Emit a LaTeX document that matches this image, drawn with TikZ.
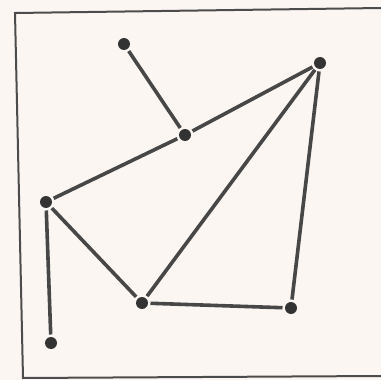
\documentclass[tikz,border=0pt]{standalone}
\begin{document}
\begin{tikzpicture}[x=1pt,y=-1pt,
  vtx/.style={circle,fill=black!80,inner sep=0pt,minimum size=12pt,outer sep=2.5pt},
  edge/.style={draw=black!72,line width=3.6pt},
  frame/.style={draw=black!70,line width=2pt}]
\fill[white!93!brown] (0,0) rectangle (381,380);
\useasboundingbox (0,0) rectangle (381,380);
\coordinate (tl) at (15,13);
\coordinate (tr) at (381,8);
\coordinate (bl) at (23,378);
\coordinate (br) at (381,376);
\draw[frame] (tr) -- (tl) -- (bl) -- (br);
\node[vtx] (A) at (124,44) {};
\node[vtx] (B) at (185,135) {};
\node[vtx] (C) at (320,63) {};
\node[vtx] (D) at (46,202) {};
\node[vtx] (E) at (142,303) {};
\node[vtx] (F) at (291,308) {};
\node[vtx] (G) at (51,343) {};
\draw[edge] (A) -- (B);
\draw[edge] (B) -- (C);
\draw[edge] (B) -- (D);
\draw[edge] (C) -- (E);
\draw[edge] (C) -- (F);
\draw[edge] (E) -- (F);
\draw[edge] (D) -- (E);
\draw[edge] (D) -- (G);
\end{tikzpicture}
\end{document}
